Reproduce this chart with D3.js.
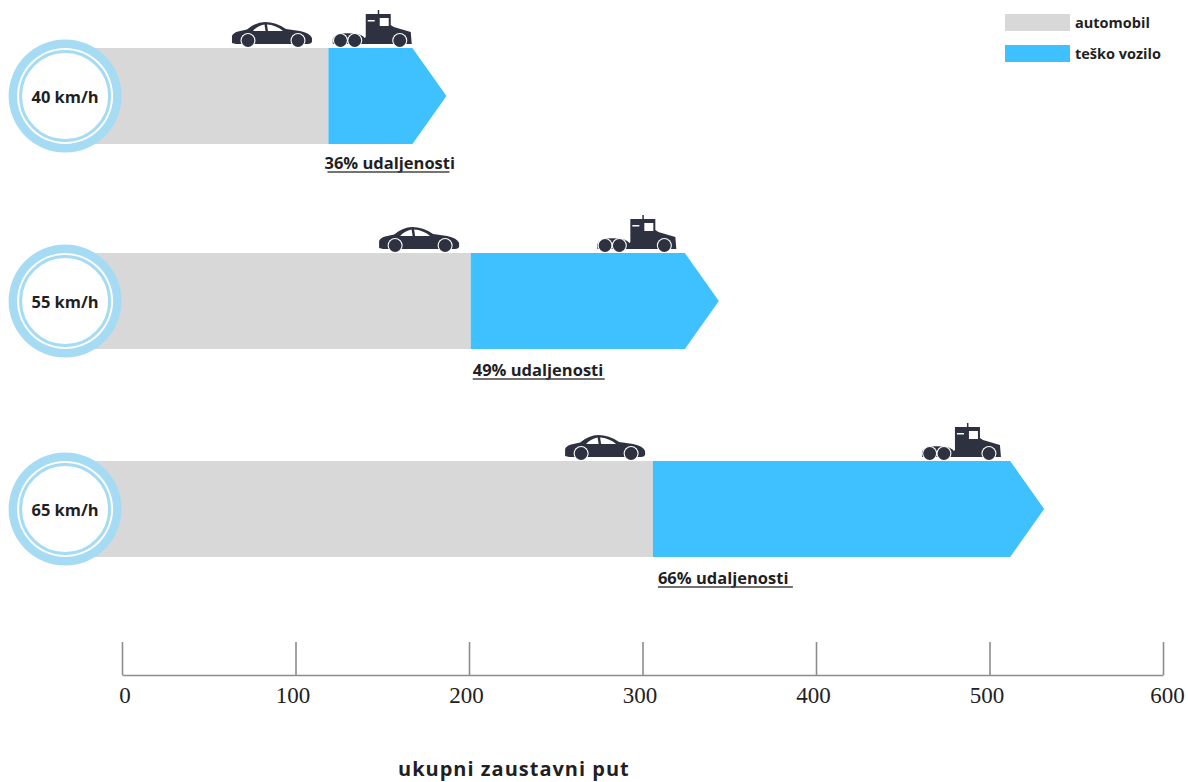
<!DOCTYPE html>
<html>
<head>
<meta charset="utf-8">
<script src="https://cdn.jsdelivr.net/npm/d3@7"></script>
<style>
  html, body { margin: 0; background: #fff; }
  svg { display: block; }
  text { font-family: "Open Sans", "Lato", sans-serif; font-weight: 700; fill: #1f1f24; }
  .axis text { font-family: "Liberation Serif", serif; font-weight: 400; font-size: 23px; fill: #222; }
  .axis path, .axis line { stroke: #8c8c8c; stroke-width: 1.6; }
</style>
</head>
<body>
<div id="chart"></div>
<script>
var speeds = ['40 km/h', '55 km/h', '65 km/h'];
var carDistance = [119, 201, 306];
var truckDistance = [187, 344, 531.5];
var carIconEnd = [109.5, 194.3, 301.5];
var truckIconEnd = [167, 319.5, 506.6];
var percentLabels = ['36% udaljenosti', '49% udaljenosti', '66% udaljenosti'];
var legendLabels = ['automobil', 'teško vozilo'];
var axisTicks = [0, 100, 200, 300, 400, 500, 600];
var axisTitle = 'ukupni zaustavni put';

var svgWidth = 1188, svgHeight = 782;
var grey = '#d8d8d8', blue = '#3fc0ff', ring = '#a6dbf4', dark = '#2e3240';
var barH = 96, tipW = 34, circleR = 56.5;

var x = d3.scaleLinear().domain([0, 600]).range([122, 1163]);
var y = d3.scaleOrdinal().domain(speeds).range([96, 301, 509]);

var svg = d3.select('#chart').append('svg').attr('width', svgWidth).attr('height', svgHeight);

var rows = speeds.map(function (s, i) {
  return { speed: s, car: carDistance[i], truck: truckDistance[i], carIcon: carIconEnd[i], truckIcon: truckIconEnd[i], label: percentLabels[i], i: i };
});

var row = svg.selectAll('g.row').data(rows).enter().append('g').attr('class', 'row')
  .attr('transform', function (d) { return 'translate(0,' + y(d.speed) + ')'; });

// grey bar runs from behind the circle to the car distance
row.append('rect')
  .attr('x', x(-32)).attr('y', -barH / 2)
  .attr('width', function (d) { return x(d.car) - x(-32); })
  .attr('height', barH).attr('fill', grey);

// blue arrow from car distance to truck distance
row.append('path').attr('fill', blue).attr('d', function (d) {
  var x0 = x(d.car), x1 = x(d.truck);
  return 'M' + x0 + ',' + (-barH / 2) + 'L' + (x1 - tipW) + ',' + (-barH / 2) + 'L' + x1 + ',0L' +
    (x1 - tipW) + ',' + (barH / 2) + 'L' + x0 + ',' + (barH / 2) + 'Z';
});

// speed circle
var cx = x(-32.8);
row.append('circle').attr('cx', cx).attr('r', circleR).attr('fill', ring);
row.append('circle').attr('cx', cx).attr('r', 48).attr('fill', '#fff');
row.append('circle').attr('cx', cx).attr('r', 44.5).attr('fill', '#fff').attr('stroke', ring).attr('stroke-width', 3);
row.append('text').attr('x', cx).attr('y', 7).attr('text-anchor', 'middle')
  .style('font-size', '16.5px').text(function (d) { return d.speed; });

// vehicle icons, drawn 80 wide with the bar top at 0
function wheels(g, list) {
  list.forEach(function (cxw) {
    g.append('circle').attr('cx', cxw).attr('cy', -7.5).attr('r', 7.5).attr('fill', '#fff');
    g.append('circle').attr('cx', cxw).attr('cy', -7.5).attr('r', 6.4).attr('fill', dark);
  });
}
function drawCar(g) {
  g.append('path').attr('fill', dark).attr('d',
    'M0,-5 L0,-12 Q1,-15 6,-16.5 L15,-18.5 Q24,-26 33,-26 Q44,-26 54,-19 L68,-17 Q78,-15 80,-10 L80,-6 Q79,-4 76,-4 L4,-4Z');
  g.append('path').attr('fill', '#fff').attr('d', 'M21,-17 Q25,-22 32.5,-23.5 L33.5,-17Z M35,-23.5 Q44,-23 51,-17 L36,-17Z');
  wheels(g, [16, 66]);
}
function drawTruck(g) {
  g.append('path').attr('fill', dark).attr('d',
    'M1,-4 L1,-9 Q3,-14 9,-14.5 Q16,-15 23,-14.5 Q30,-14 33,-10 L34,-11 L34,-34 L59,-34 L59,-23 L62,-21 L79,-16 L80,-4Z M46,-38 L47.5,-38 L47.5,-33 L46,-33Z');
  g.append('path').attr('fill', '#fff').attr('d', 'M48,-30 L57,-30 L57,-22 L48,-22Z M36,-28 L43,-28 L43,-26.5 L36,-26.5Z');
  wheels(g, [8.7, 23, 68]);
}
row.append('g').attr('transform', function (d) { return 'translate(' + (x(d.carIcon) - 80) + ',' + (-barH / 2) + ')'; }).each(function () { drawCar(d3.select(this)); });
row.append('g').attr('transform', function (d) { return 'translate(' + (x(d.truckIcon) - 80) + ',' + (-barH / 2) + ')'; }).each(function () { drawTruck(d3.select(this)); });

// percent labels and their rule, nudged a little per row as in the picture
var labelNudge = [-4, 2, 5];
var labelLift = [2, 0, 0];
var ruleFrom = [3, 0, 0];
var ruleTo = [125, 132, 135];
row.append('text').attr('class', 'pct')
  .attr('x', function (d) { return x(d.car) + labelNudge[d.i]; }).attr('y', function (d) { return barH / 2 + 27 - labelLift[d.i]; })
  .style('font-size', '16.5px').text(function (d) { return d.label; });
row.append('line')
  .attr('x1', function (d) { return x(d.car) + labelNudge[d.i] + ruleFrom[d.i]; })
  .attr('x2', function (d) { return x(d.car) + labelNudge[d.i] + ruleTo[d.i]; })
  .attr('y1', function (d) { return barH / 2 + 30 - labelLift[d.i]; })
  .attr('y2', function (d) { return barH / 2 + 30 - labelLift[d.i]; })
  .attr('stroke', '#444').attr('stroke-width', 1.6);

// legend
var legend = svg.selectAll('g.legend').data(legendLabels).enter().append('g').attr('class', 'legend')
  .attr('transform', function (d, i) { return 'translate(1005,' + (14 + i * 31) + ')'; });
legend.append('rect').attr('width', 65).attr('height', 17).attr('fill', function (d, i) { return i ? blue : grey; });
legend.append('text').attr('x', 70).attr('y', 14).style('font-size', '14.5px').text(function (d) { return d; });

// axis, ticks stand up from the baseline
var axis = d3.axisBottom(x).tickValues(axisTicks).tickSize(-33).tickSizeOuter(0).tickPadding(12);
var axisG = svg.append('g').attr('class', 'axis').attr('transform', 'translate(0,675)').call(axis);
axisG.selectAll('text').attr('dy', '0.71em').attr('dx', function (d) { return d === 0 ? 2.5 : d === 600 ? 4 : -3; });

svg.append('text').attr('x', 398).attr('y', 776).style('font-size', '20px').attr('letter-spacing', 1).text(axisTitle);
</script>
</body>
</html>
